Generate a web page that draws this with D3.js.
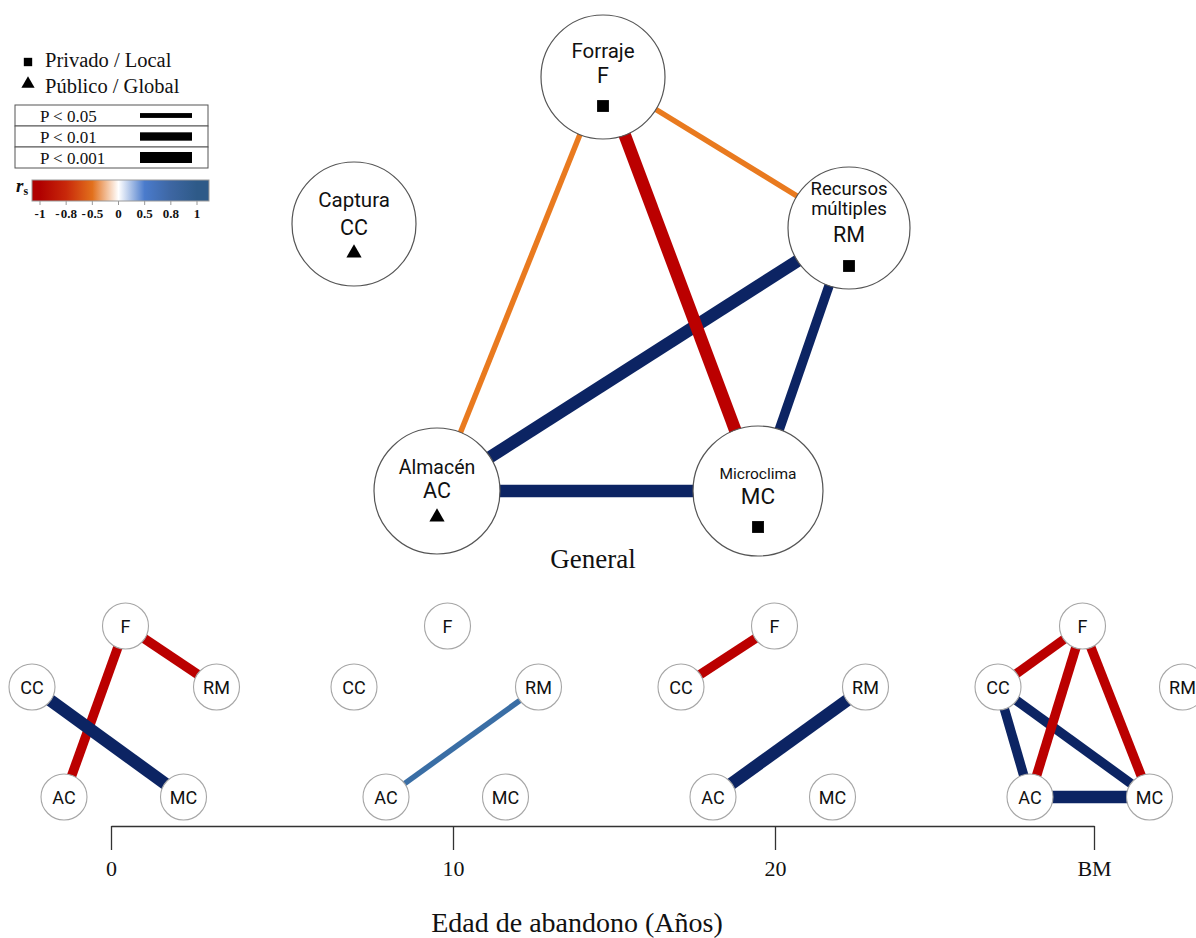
<!DOCTYPE html>
<html>
<head>
<meta charset="utf-8">
<script src="https://cdn.jsdelivr.net/npm/d3@7"></script>
<style>
  body { margin: 0; background: #fff; }
  svg { display: block; }
</style>
</head>
<body>
<svg id="chart" width="1196" height="938"></svg>
<script>
// ---- Data ----------------------------------------------------------------
const nodeCodes = ["F", "CC", "RM", "AC", "MC"];
const nodeNames = [["Forraje"], ["Captura"], ["Recursos", "múltiples"], ["Almacén"], ["Microclima"]];
const nodeType  = ["Privado", "Público", "Privado", "Público", "Privado"];

const propertyTypes  = ["Privado", "Público"];
const propertyLabels = ["Privado / Local", "Público / Global"];

const pLevels = [0.05, 0.01, 0.001];
const pLabels = ["P < 0.05", "P < 0.01", "P < 0.001"];

const rsTicks      = [-1, -0.8, -0.5, 0, 0.5, 0.8, 1];
const rsTickLabels = ["-1", "- 0.8", "- 0.5", "0", "0.5", "0.8", "1"];
const rsColors     = ["#b00000", "#c8280a", "#e2701c", "#ffffff", "#4a7bcc", "#3d66a2", "#2e5a88"];

// Edges: [source, target, Spearman rs, significance level]
const generalEdges = [
  ["F",  "RM", -0.5,  0.05],
  ["F",  "AC", -0.5,  0.05],
  ["RM", "AC",  0.92, 0.001],
  ["F",  "MC", -0.92, 0.001],
  ["RM", "MC",  0.92, 0.01],
  ["AC", "MC",  0.92, 0.001]
];

const ageValues = [0, 10, 20, 30];
const ageLabels = ["0", "10", "20", "BM"];
const ageEdges = [
  [["F", "RM", -0.92, 0.01], ["F", "AC", -0.92, 0.01], ["CC", "MC", 0.92, 0.001]],
  [["AC", "RM", 0.7, 0.05]],
  [["CC", "F", -0.92, 0.01], ["AC", "RM", 0.92, 0.001]],
  [["CC", "AC", 0.92, 0.01], ["CC", "MC", 0.92, 0.01], ["AC", "MC", 0.92, 0.001],
   ["CC", "F", -0.92, 0.01], ["F", "AC", -0.92, 0.01], ["F", "MC", -0.92, 0.01]]
];

// ---- Layout ----------------------------------------------------------------
const sansFont  = "Roboto, 'DejaVu Sans', sans-serif";
const serifFont = "'Liberation Serif', 'Times New Roman', serif";
const textColor = "#111";

// Large network: centre, radius, label lines [dy, font size], symbol dy
const mainLayout = {
  F:  { x: 603, y: 77,  r: 62, lines: [[-19, 20.5]], code: [6, 21.5],  sym: 29 },
  CC: { x: 354, y: 224, r: 62, lines: [[-17, 20.5]], code: [11, 21.5], sym: 29 },
  RM: { x: 849, y: 228, r: 61, lines: [[-33, 18.5], [-13, 18.5]], code: [14, 21.5], sym: 38 },
  AC: { x: 437, y: 491, r: 63, lines: [[-17, 19.5]], code: [7, 21.5],  sym: 26 },
  MC: { x: 758, y: 491, r: 65, lines: [[-12, 15.5]], code: [13, 22.5], sym: 36 }
};

// Small networks along the age axis
const smallLayout = {
  F:  { x: 125.5, y: 626 },
  CC: { x: 32,    y: 687 },
  RM: { x: 216.5, y: 687 },
  AC: { x: 64,    y: 797 },
  MC: { x: 183.5, y: 797 }
};
const smallRadius = 23;
const panelOffsets = [0, 322, 649, 966];
const panelNudge = [{}, {}, {}, { F: -9 }];

// ---- Scales ----------------------------------------------------------------
const edgeColor = d3.scaleLinear()
  .domain([-1, -0.8, -0.5, 0, 0.5, 0.7, 0.85, 1])
  .range(["#b80000", "#c00000", "#e97a1f", "#ffffff", "#4f7fd0", "#3a6ea5", "#0d2765", "#0a2060"]);
const edgeWidth = d3.scaleOrdinal().domain(pLevels).range([5.5, 9.5, 12.5]);
const symbolFor = d3.scaleOrdinal().domain(propertyTypes).range([d3.symbolSquare, d3.symbolTriangle]);

const svg = d3.select("#chart");
svg.append("rect").attr("width", 1196).attr("height", 938).attr("fill", "#fff");

// ---- Large network ("General") ---------------------------------------------
const gMain = svg.append("g");
gMain.append("g").selectAll("line")
  .data(generalEdges).join("line")
  .attr("x1", d => mainLayout[d[0]].x).attr("y1", d => mainLayout[d[0]].y)
  .attr("x2", d => mainLayout[d[1]].x).attr("y2", d => mainLayout[d[1]].y)
  .attr("stroke", d => edgeColor(d[2]))
  .attr("stroke-width", d => edgeWidth(d[3]));

const mainNodes = gMain.append("g").selectAll("g")
  .data(nodeCodes).join("g")
  .attr("transform", d => `translate(${mainLayout[d].x},${mainLayout[d].y})`);

mainNodes.append("circle")
  .attr("r", d => mainLayout[d].r)
  .attr("fill", "#fff").attr("stroke", "#555").attr("stroke-width", 1.2);

mainNodes.each(function (code, i) {
  const g = d3.select(this);
  const lay = mainLayout[code];
  nodeNames[i].forEach((name, j) => {
    g.append("text").attr("y", lay.lines[j][0])
      .attr("text-anchor", "middle").attr("font-family", sansFont)
      .attr("font-size", lay.lines[j][1]).attr("fill", textColor).text(name);
  });
  g.append("text").attr("y", lay.code[0])
    .attr("text-anchor", "middle").attr("font-family", sansFont)
    .attr("font-size", lay.code[1]).attr("fill", textColor).text(code);
  const type = nodeType[i];
  g.append("path")
    .attr("transform", `translate(0,${lay.sym})`)
    .attr("d", d3.symbol().type(symbolFor(type)).size(type === "Privado" ? 140 : 100)())
    .attr("fill", "#000");
});

svg.append("text").attr("x", 593).attr("y", 568)
  .attr("text-anchor", "middle").attr("font-family", serifFont)
  .attr("font-size", 27).attr("fill", "#111").text("General");

// ---- Legend ----------------------------------------------------------------
const gLeg = svg.append("g");
propertyTypes.forEach((t, i) => {
  gLeg.append("path")
    .attr("transform", `translate(28,${62 + i * 22})`)
    .attr("d", d3.symbol().type(symbolFor(t)).size(t === "Privado" ? 70 : 76)())
    .attr("fill", "#000");
  gLeg.append("text").attr("x", 45).attr("y", 67 + i * 26)
    .attr("font-family", serifFont).attr("font-size", 20.5).attr("fill", "#111")
    .text(propertyLabels[i]);
});

const rowH = 21;
pLevels.forEach((p, i) => {
  const y0 = 105 + i * rowH;
  gLeg.append("rect").attr("x", 15).attr("y", y0).attr("width", 193).attr("height", rowH)
    .attr("fill", "#fff").attr("stroke", "#555").attr("stroke-width", 1);
  gLeg.append("text").attr("x", 40).attr("y", y0 + 16.5)
    .attr("font-family", serifFont).attr("font-size", 17).attr("fill", "#111")
    .text(pLabels[i]);
  const h = edgeWidth(p) * 0.88;
  gLeg.append("rect").attr("x", 140).attr("y", y0 + rowH / 2 - h / 2)
    .attr("width", 52).attr("height", h).attr("fill", "#000");
});

// Colour bar for rs
const barX = 32, barY = 180, barW = 177, barH = 21;
const rsPos = d3.scalePoint().domain(rsTickLabels).range([40, 197]);
const grad = svg.append("defs").append("linearGradient")
  .attr("id", "rsGrad").attr("gradientUnits", "userSpaceOnUse")
  .attr("x1", barX).attr("x2", barX + barW).attr("y1", 0).attr("y2", 0);
grad.selectAll("stop").data(rsTickLabels).join("stop")
  .attr("offset", d => (rsPos(d) - barX) / barW)
  .attr("stop-color", (d, i) => rsColors[i]);
gLeg.append("rect").attr("x", barX).attr("y", barY).attr("width", barW).attr("height", barH)
  .attr("fill", "url(#rsGrad)").attr("stroke", "#9a9a9a").attr("stroke-width", 1);
gLeg.selectAll(".rstick").data(rsTickLabels).join("line")
  .attr("x1", d => rsPos(d)).attr("x2", d => rsPos(d))
  .attr("y1", barY + barH).attr("y2", barY + barH + 4)
  .attr("stroke", "#999").attr("stroke-width", 1);
gLeg.selectAll(".rslab").data(rsTickLabels).join("text")
  .attr("x", d => rsPos(d)).attr("y", 218)
  .attr("text-anchor", "middle").attr("font-family", serifFont)
  .attr("font-size", 13).attr("font-weight", "bold").attr("fill", "#111")
  .attr("word-spacing", -2)
  .text(d => d);
const rsLab = gLeg.append("text").attr("x", 16).attr("y", 192)
  .attr("font-family", serifFont).attr("font-weight", "bold").attr("fill", "#111");
rsLab.append("tspan").attr("font-style", "italic").attr("font-size", 19).text("r");
rsLab.append("tspan").attr("font-size", 12).attr("dy", 3).text("s");

// ---- Age axis ----------------------------------------------------------------
const x = d3.scaleLinear().domain(ageValues).range([111, 453, 775, 1094]);
const axis = d3.axisBottom(x)
  .tickValues(ageValues)
  .tickFormat((d, i) => ageLabels[i])
  .tickSize(24).tickSizeOuter(0).tickPadding(10);
const gAxis = svg.append("g").attr("transform", "translate(0,826)").call(axis);
gAxis.select(".domain").attr("stroke", "#333").attr("stroke-width", 1.6);
gAxis.selectAll(".tick line").attr("stroke", "#333").attr("stroke-width", 1.3);
gAxis.selectAll(".tick text")
  .attr("font-family", serifFont).attr("font-size", 22).attr("fill", "#111");

svg.append("text").attr("x", 577).attr("y", 932)
  .attr("text-anchor", "middle").attr("font-family", serifFont)
  .attr("font-size", 28).attr("fill", "#111").text("Edad de abandono (Años)");

// ---- Small networks per age ----------------------------------------------------
ageEdges.forEach((edges, k) => {
  const pos = code => ({
    x: smallLayout[code].x + (panelNudge[k][code] || 0),
    y: smallLayout[code].y
  });
  const g = svg.append("g").attr("transform", `translate(${panelOffsets[k]},0)`);
  g.append("g").selectAll("line").data(edges).join("line")
    .attr("x1", d => pos(d[0]).x).attr("y1", d => pos(d[0]).y)
    .attr("x2", d => pos(d[1]).x).attr("y2", d => pos(d[1]).y)
    .attr("stroke", d => edgeColor(d[2]))
    .attr("stroke-width", d => edgeWidth(d[3]));
  const nodes = g.append("g").selectAll("g").data(nodeCodes).join("g")
    .attr("transform", d => `translate(${pos(d).x},${pos(d).y})`);
  nodes.append("circle").attr("r", smallRadius)
    .attr("fill", "#fff").attr("stroke", "#a6a6a6").attr("stroke-width", 1.1);
  nodes.append("text").attr("y", 6.5)
    .attr("text-anchor", "middle").attr("font-family", sansFont)
    .attr("font-size", 18).attr("fill", textColor).text(d => d);
});
</script>
</body>
</html>
